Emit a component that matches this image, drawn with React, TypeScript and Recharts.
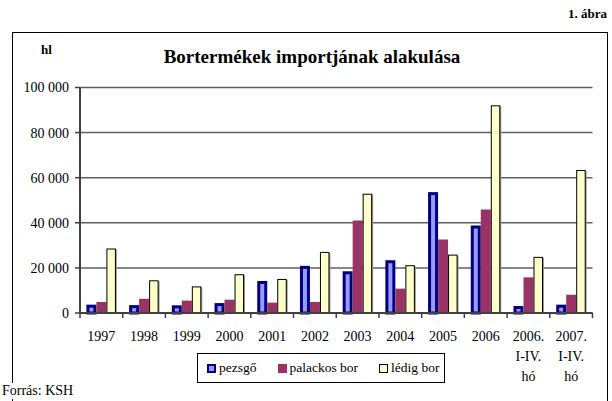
import React from 'react';
import { BarChart, Bar, XAxis, YAxis, CartesianGrid } from 'recharts';

// Categories and series (hl)
const years = ['1997', '1998', '1999', '2000', '2001', '2002', '2003', '2004', '2005', '2006', '2006.\nI-IV.\nhó', '2007.\nI-IV.\nhó'];
const pezsgo = [3700, 3500, 3400, 4400, 14200, 20900, 18500, 23400, 53600, 38800, 3100, 3700];
const palackos = [4900, 6300, 5500, 5900, 4600, 4900, 41000, 10800, 32600, 45900, 15800, 8100];
const ledig = [28600, 14500, 11800, 17200, 15100, 27100, 52900, 21200, 25900, 92100, 24900, 63400];
const yTicks = [0, 20000, 40000, 60000, 80000, 100000];

const data = years.map((name, i) => ({ name, pezsgo: pezsgo[i], palackos: palackos[i], ledig: ledig[i] }));

const FONT = "'Liberation Serif', Tinos, 'Times New Roman', 'DejaVu Serif', serif";
const NAVY = '#000080';
const BLUE = '#9999FF';
const PLUM = '#993366';
const CREAM = '#FFFFCC';

const fmt = (v: number) => v.toString().replace(/\B(?=(\d{3})+(?!\d))/g, ' ');

const PezsgoShape = (props: any) => {
  const { x, y, width, height } = props;
  if (!height || height <= 0) return null;
  return <rect x={x + 1.5} y={y + 1.5} width={width - 3} height={height - 1.5} fill={BLUE} stroke={NAVY} strokeWidth={3} />;
};

const LedigShape = (props: any) => {
  const { x, y, width, height } = props;
  return (
    <g>
      <rect x={x + 1.5} y={y + 1} width={width - 1} height={height - 1} fill="#999" />
      <rect x={x + 0.5} y={y + 0.5} width={width - 1.5} height={height - 0.5} fill={CREAM} stroke="#000" strokeWidth={1} />
    </g>
  );
};

// category labels plus Excel-style tick marks between categories
const XTick = (props: any) => {
  const { x, y, payload, index } = props;
  const step = 512.5 / years.length;
  const lines = String(payload.value).split('\n');
  return (
    <g>
      <line x1={x - step / 2} x2={x - step / 2} y1={y} y2={y + 5} stroke="#404040" strokeWidth={1.5} />
      {index === years.length - 1 && (
        <line x1={x + step / 2} x2={x + step / 2} y1={y} y2={y + 5} stroke="#404040" strokeWidth={1.5} />
      )}
      <text x={x} y={y + 28} textAnchor="middle" style={{ fontFamily: FONT }} fontSize={14} fill="#000">
        {lines.map((l, i) => (
          <tspan key={i} x={x} dy={i === 0 ? 0 : 20}>{l}</tspan>
        ))}
      </text>
    </g>
  );
};

const legendItems = [
  { label: 'pezsgő', fill: BLUE, stroke: NAVY, sw: 2 },
  { label: 'palackos bor', fill: PLUM, stroke: PLUM, sw: 0 },
  { label: 'lédig bor', fill: CREAM, stroke: '#000', sw: 1 },
];

export default function App() {
  return (
    <div style={{ position: 'absolute', left: 0, top: 0, width: 612, height: 401, background: '#fff', fontFamily: FONT, overflow: 'hidden' }}>
      <div style={{ position: 'absolute', right: 5, top: 6, fontSize: 13, fontWeight: 'bold' }}>1. ábra</div>
      <div style={{ position: 'absolute', left: 12, top: 32, width: 596, height: 400, border: '1px solid #000', boxSizing: 'border-box' }} />
      <div style={{ position: 'absolute', left: 41, top: 42, fontSize: 13, fontWeight: 'bold' }}>hl</div>
      <div style={{ position: 'absolute', left: 12, width: 600, top: 46, textAlign: 'center', fontSize: 19, fontWeight: 'bold' }}>
        Bortermékek importjának alakulása
      </div>
      <div style={{ position: 'absolute', left: 0, top: 0 }}>
        <BarChart width={612} height={401} data={data} margin={{ top: 87.5, right: 19.5, left: 0, bottom: 0 }} barCategoryGap="15%" barGap={0}>
          <CartesianGrid vertical={false} stroke="#606060" strokeWidth={1.5} />
          <XAxis dataKey="name" height={88} interval={0} tickLine={false} tickSize={0} tickMargin={0} axisLine={{ stroke: '#404040', strokeWidth: 2 }} tick={<XTick />} />
          <YAxis
            width={80}
            domain={[0, 100000]}
            ticks={yTicks}
            tickFormatter={fmt}
            tickSize={5}
            tickMargin={6}
            axisLine={{ stroke: '#404040', strokeWidth: 2 }}
            tickLine={{ stroke: '#404040', strokeWidth: 1.5 }}
            tick={{ style: { fontFamily: FONT }, fontSize: 14, fill: '#000' }}
          />
          <YAxis yAxisId="r" orientation="right" width={0} tick={false} tickLine={false} axisLine={{ stroke: '#808080', strokeWidth: 2 }} />
          <Bar dataKey="pezsgo" shape={<PezsgoShape />} isAnimationActive={false} />
          <Bar dataKey="palackos" fill={PLUM} isAnimationActive={false} />
          <Bar dataKey="ledig" shape={<LedigShape />} isAnimationActive={false} />
        </BarChart>
      </div>
      <div style={{ position: 'absolute', left: 197, top: 353, width: 248, height: 30, border: '1px solid #000', boxSizing: 'border-box', display: 'flex', alignItems: 'center', paddingLeft: 9, fontSize: 13.5, whiteSpace: 'nowrap' }}>
        {legendItems.map((it, i) => (
          <div key={i} style={{ display: 'flex', alignItems: 'center', marginRight: 21, flexShrink: 0 }}>
            <span style={{ display: 'inline-block', width: 9, height: 9, background: it.fill, border: it.sw ? `${it.sw}px solid ${it.stroke}` : 'none', boxSizing: 'border-box', marginRight: 3 }} />
            <span>{it.label}</span>
          </div>
        ))}
      </div>
      <div style={{ position: 'absolute', left: 2, top: 383, fontSize: 14, background: '#fff', paddingRight: 2 }}>Forrás: KSH</div>
    </div>
  );
}
